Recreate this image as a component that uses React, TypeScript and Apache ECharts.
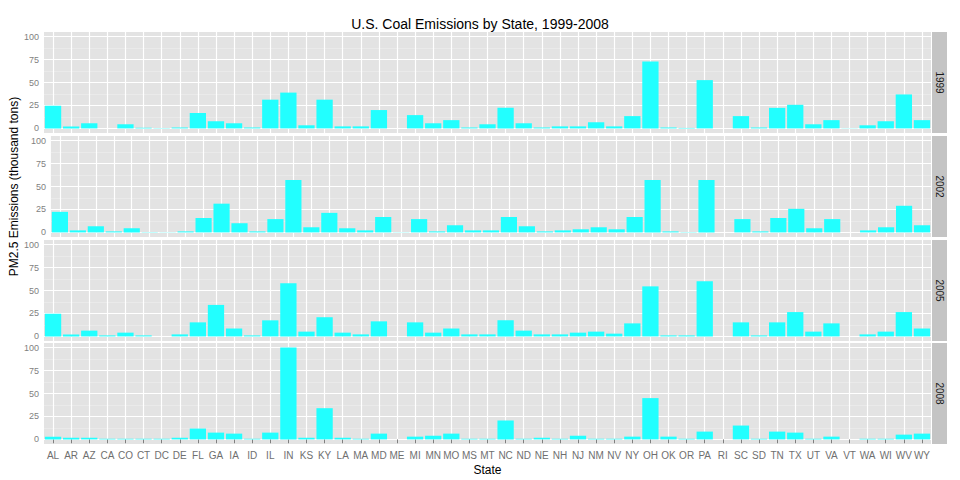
import React, { useEffect, useRef } from "react";
import * as echarts from "echarts";

const states = ["AL","AR","AZ","CA","CO","CT","DC","DE","FL","GA","IA","ID","IL","IN","KS","KY","LA","MA","MD","ME","MI","MN","MO","MS","MT","NC","ND","NE","NH","NJ","NM","NV","NY","OH","OK","OR","PA","RI","SC","SD","TN","TX","UT","VA","VT","WA","WI","WV","WY"];

const years = ["1999", "2002", "2005", "2008"];

const y1999 = [24.6,2.2,5.6,0,4.5,0.7,0.3,1,16.8,7.8,5.6,1,31.3,39,3.4,31.3,2.2,2.2,20,0,14.5,5.6,9,1,4.5,22.4,5.6,1,2.2,2.2,6.7,2.2,13.4,72.8,1,0.5,52.6,0,13.4,1,22.4,25.7,4.5,9,0.2,3.4,7.8,37,9];
const y2002 = [22.4,2.2,6.7,1.1,4.5,0.3,0.2,1.1,15.7,31.3,10,1.1,14.5,57,5.6,21.3,4.5,2.2,16.8,0.2,14.5,1.1,7.8,2.2,2.2,16.8,6.7,1.1,2.2,3.4,5.6,3.4,16.8,57,1.1,0.3,57,0,14.5,1.1,15.7,25.7,4.5,14.5,0,2.2,5.6,29,7.8];
const y2005 = [24.6,2.2,6.3,1.1,4.1,1.1,0,2.2,15.3,34.3,8.6,1.1,17.5,57.8,5.2,20.9,4.1,2.2,16.4,0,15.3,4.1,8.6,2.2,2.2,17.5,6.3,2.2,2.2,4.1,5.2,3,14.2,54.5,1.1,1.1,60,0,15.3,1.1,15.3,26.5,5.2,14.2,0,2.2,5.2,26.5,8.6];
const y2008 = [3,1.8,1.8,0.7,0.7,0.7,0.7,1.8,11.8,7.4,6.3,0.7,7.4,100,1.8,34,1.8,0.7,6.3,0,3,4,6.3,0.7,0.7,20.7,0.7,1.8,0.7,4,0.7,0.7,3,45,3,0.7,8.5,0,15.1,0.7,8.5,7.4,0.7,3,0,0.7,0.7,5.2,6.3];

const seriesValues = [y1999, y2002, y2005, y2008];
const majorTicks = [0, 25, 50, 75, 100];
const minorTicks = [12.5, 37.5, 62.5, 87.5];

const panelTops = [32, 136, 240, 343];
const panelHeight = 101;

export default function App() {
    const chartRef = useRef<HTMLDivElement>(null);

    useEffect(() => {
        document.body.style.margin = "0";
        if (chartRef.current === null) return;
        const chart = echarts.init(chartRef.current, undefined, { renderer: "svg" });

        const grids: any[] = [];
        const xAxes: any[] = [];
        const yAxes: any[] = [];
        const series: any[] = [];
        const graphics: any[] = [];

        seriesValues.forEach((vals, i) => {
            const last = i === seriesValues.length - 1;
            grids.push({
                left: 44, right: 29, top: panelTops[i], height: panelHeight,
                show: true, backgroundColor: "#E3E3E3", borderWidth: 0,
            });
            xAxes.push({
                type: "category", gridIndex: i, data: states,
                axisLine: { show: false },
                axisTick: { show: last, alignWithLabel: true, lineStyle: { color: "#7F7F7F" }, length: 4 },
                axisLabel: { show: last, color: "#6F6F6F", fontSize: 10, interval: 0, margin: 6, fontFamily: "Liberation Sans" },
                splitLine: { show: false },
                name: last ? "State" : "", nameLocation: "middle", nameGap: 20,
                nameTextStyle: { color: "#000", fontSize: 12, fontFamily: "Liberation Sans" },
            });
            yAxes.push({
                type: "value", gridIndex: i, min: -5, max: 105, interval: 5,
                axisLine: { show: false }, axisTick: { show: false }, splitLine: { show: false },
                axisLabel: {
                    color: "#7F7F7F", fontSize: 9, margin: 5, fontFamily: "Liberation Sans",
                    formatter: (v: number) => (majorTicks.includes(v) ? String(v) : ""),
                },
                name: i === 1 ? "PM2.5 Emissions (thousand tons)" : "",
                nameLocation: "middle", nameGap: 28,
                nameTextStyle: { color: "#000", fontSize: 12, fontFamily: "Liberation Sans" },
            });
            // grid lines drawn behind the bars
            series.push({
                type: "bar", xAxisIndex: i, yAxisIndex: i, data: [], z: 1, silent: true,
                markLine: {
                    z: 0, silent: true, symbol: "none", label: { show: false }, animation: false,
                    data: [
                        ...minorTicks.map((t) => ({ yAxis: t, lineStyle: { color: "#EEEEEE", width: 0.6, type: "solid" } })),
                        ...majorTicks.map((t) => ({ yAxis: t, lineStyle: { color: "#FFFFFF", width: 1.2, type: "solid" } })),
                        ...states.map((s) => ({ xAxis: s, lineStyle: { color: "#FFFFFF", width: 1.2, type: "solid" } })),
                    ],
                },
            });
            series.push({
                type: "bar", xAxisIndex: i, yAxisIndex: i, data: vals, z: 3,
                barCategoryGap: "10%", barGap: "-100%",
                itemStyle: { color: "#22FFFF" },
            });
            graphics.push({
                type: "rect", shape: { x: 932, y: panelTops[i], width: 15, height: panelHeight },
                style: { fill: "#C4C4C4" },
            });
            graphics.push({
                type: "text", x: 939.5, y: panelTops[i] + panelHeight / 2, rotation: -Math.PI / 2,
                style: { text: years[i], fill: "#1A1A1A", fontSize: 10, fontFamily: "Liberation Sans", align: "center", verticalAlign: "middle" },
            });
        });

        chart.setOption({
            animation: false,
            title: {
                text: "U.S. Coal Emissions by State, 1999-2008", left: "center", top: 12,
                textStyle: { fontSize: 14, fontWeight: "normal", color: "#000", fontFamily: "Liberation Sans" },
            },
            grid: grids, xAxis: xAxes, yAxis: yAxes, series, graphic: graphics,
        });

        return () => chart.dispose();
    }, []);

    return <div ref={chartRef} style={{ width: "960px", height: "480px" }} />;
}
